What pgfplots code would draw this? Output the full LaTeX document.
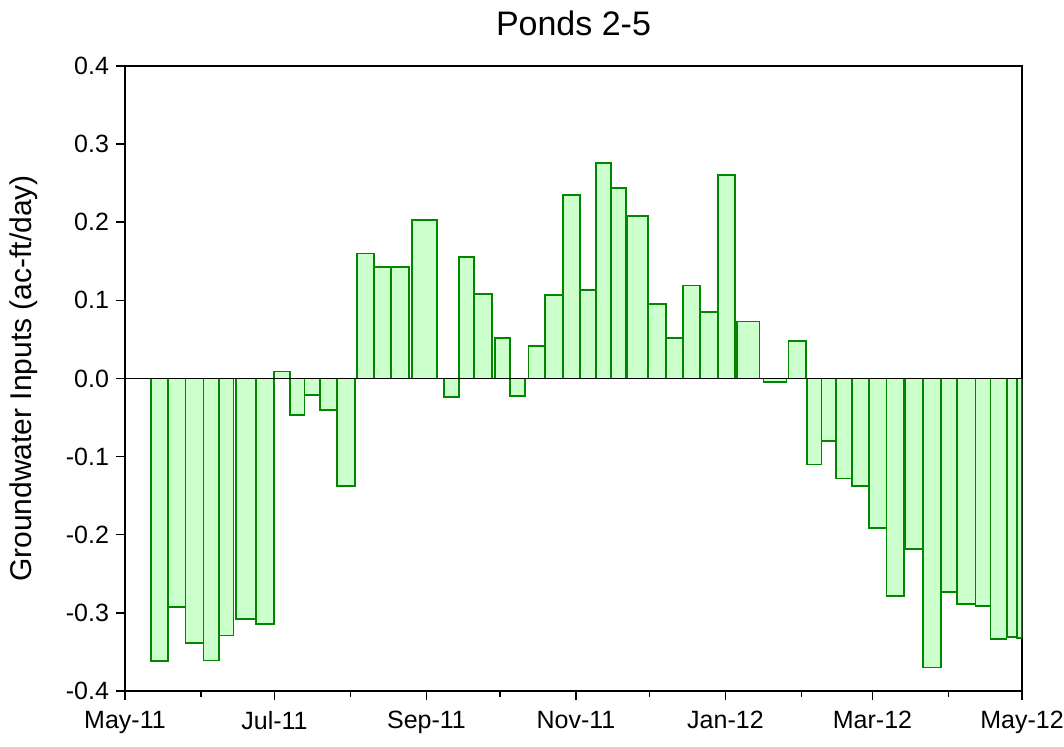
\documentclass[border=0pt]{standalone}
\usepackage{pgfplots}
\usepackage{pgfplotstable}
\pgfplotsset{compat=1.18}
\usepackage{fontspec}
\setmainfont{Liberation Sans}

\definecolor{gwfill}{RGB}{204,255,204}
\definecolor{gwline}{RGB}{0,135,0}

% Groundwater inputs per measurement period.
% start/end: days since 1 May 2011; value: ac-ft/day
\pgfplotstableread{
start  end    value
10.5   17.7   -0.362
17.7   24.7   -0.292
24.7   32.0   -0.339
32.0   38.4   -0.361
38.4   44.3   -0.329
45.2   53.3   -0.308
53.3   60.9   -0.314
60.9   67.3    0.009
67.3   73.2   -0.047
73.2   79.6   -0.021
79.6   86.6   -0.040
86.6   93.9   -0.138
94.5   101.7   0.160
101.7  108.5   0.143
108.5  115.8   0.143
117.1  127.3   0.203
130.0  136.2  -0.024
136.2  142.3   0.156
142.3  149.8   0.108
151.1  157.2   0.052
157.2  163.3  -0.022
164.6  171.5   0.042
171.5  178.7   0.107
178.7  185.8   0.235
185.8  192.1   0.113
192.1  198.3   0.276
198.3  204.3   0.244
205.0  213.4   0.208
213.6  220.7   0.095
220.7  227.6   0.052
227.6  234.7   0.119
234.7  241.8   0.085
241.8  248.9   0.260
249.8  258.9   0.073
260.5  269.9  -0.004
270.7  277.8   0.048
278.2  284.2  -0.110
284.2  290.2  -0.080
290.2  296.6  -0.128
296.6  303.6  -0.138
303.6  310.7  -0.191
310.7  317.9  -0.278
318.3  325.5  -0.218
325.5  332.8  -0.370
332.8  339.6  -0.273
339.6  347.0  -0.289
347.0  353.1  -0.291
353.1  359.7  -0.333
359.9  364.1  -0.331
364.1  366.0  -0.332
}\gwdata

% draws every period of the table as a rectangle with the given style
\newcommand{\gwbars}[1]{%
  \pgfplotstablegetrowsof{\gwdata}%
  \pgfmathtruncatemacro{\lastrow}{\pgfplotsretval-1}%
  \pgfplotsforeachungrouped \i in {0,...,\lastrow}{%
    \pgfplotstablegetelem{\i}{start}\of\gwdata \let\xa\pgfplotsretval
    \pgfplotstablegetelem{\i}{end}\of\gwdata \let\xb\pgfplotsretval
    \pgfplotstablegetelem{\i}{value}\of\gwdata \let\yv\pgfplotsretval
    \edef\gwcmd{\noexpand\addplot[#1] coordinates {(\xa,0) (\xa,\yv) (\xb,\yv) (\xb,0)} \noexpand\closedcycle;}%
    \gwcmd
  }%
}

\begin{document}
\begin{tikzpicture}
\begin{axis}[
  scale only axis,
  width=448.5pt, height=312.5pt,
  xmin=0, xmax=366,
  ymin=-0.4, ymax=0.4,
  axis line style={black, line width=0.75pt},
  every tick/.style={black, line width=0.75pt},
  tick align=outside,
  xtick pos=left, ytick pos=left,
  major tick length=4.5pt,
  minor tick length=3pt,
  xtick={0,61,123,184,245,305,366},
  xticklabels={May-11,Jul-11,Sep-11,Nov-11,Jan-12,Mar-12,May-12},
  minor xtick={31,92,153,214,276,336},
  ytick={-0.4,-0.3,-0.2,-0.1,0,0.1,0.2,0.3,0.4},
  yticklabels={-0.4,-0.3,-0.2,-0.1,0.0,0.1,0.2,0.3,0.4},
  tick label style={font=\fontsize{12.5}{15}\selectfont},
  xticklabel style={yshift=-2pt},
  title={Ponds 2-5},
  every axis title/.style={at={(axis description cs:0.5,1)}, anchor=base, yshift=15pt,
    font=\fontsize{17}{20}\selectfont},
  ylabel={Groundwater Inputs (ac-ft/day)},
  every axis y label/.style={at={(axis description cs:-0.1126,0.5)}, rotate=90, anchor=center,
    font=\fontsize{15}{18}\selectfont},
  clip=true,
]
% fills first, outlines on top so shared edges stay visible
\gwbars{fill=gwfill, draw=none, mark=none}
\gwbars{draw=gwline, fill=none, line width=0.9pt, mark=none}
% zero reference line
\addplot[black, line width=0.65pt, mark=none] coordinates {(0,0) (366,0)};
\end{axis}
\pgfresetboundingbox
\path[use as bounding box] (-62.5pt,-28pt) rectangle (469.5pt,345.5pt);
\end{tikzpicture}
\end{document}
